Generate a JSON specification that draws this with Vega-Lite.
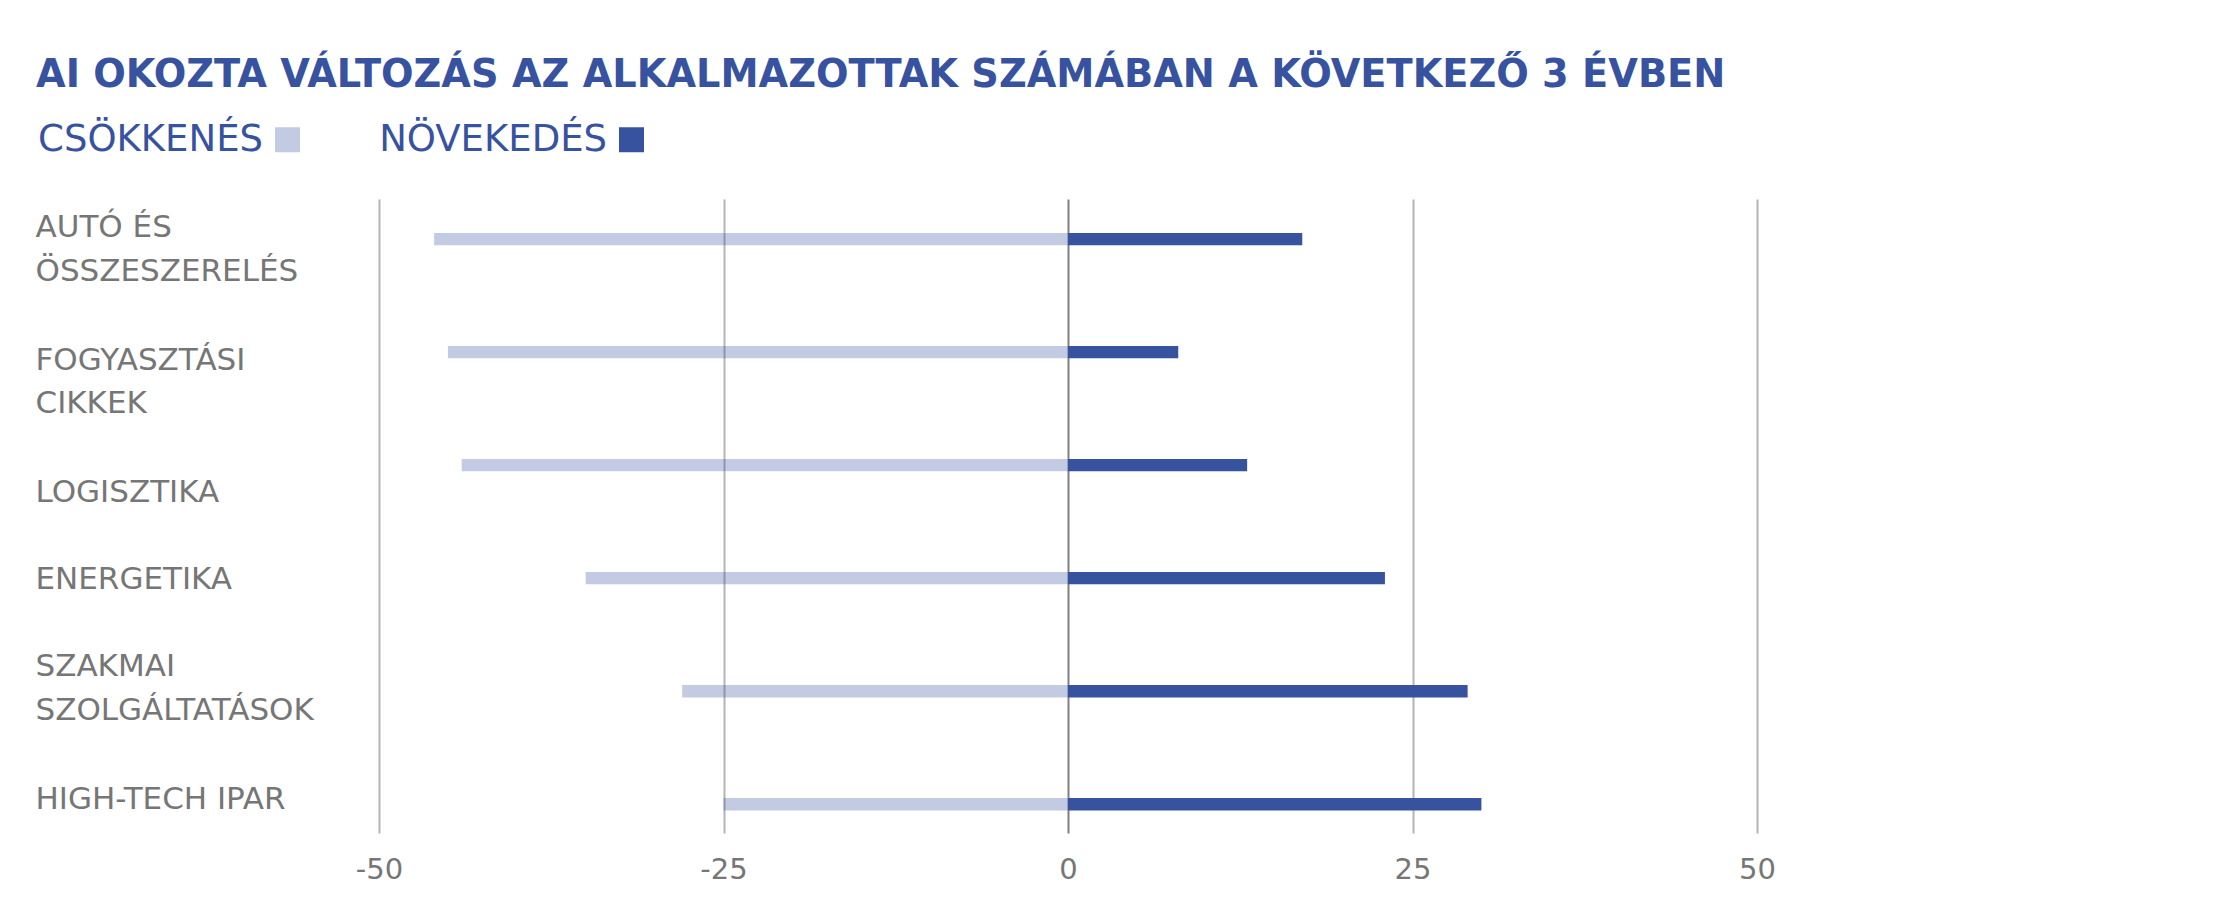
{
  "$schema": "https://vega.github.io/schema/vega-lite/v6.json",
  "width": 1378,
  "height": 634,
  "autosize": {"type": "none"},
  "padding": {"left": 379, "top": 199, "right": 470, "bottom": 73},
  "background": "white",
  "title": {
    "text": "AI OKOZTA VÁLTOZÁS AZ ALKALMAZOTTAK SZÁMÁBAN A KÖVETKEZŐ 3 ÉVBEN",
    "anchor": "start",
    "frame": "group",
    "dx": -343,
    "offset": -4,
    "baseline": "alphabetic",
    "font": "DejaVu Sans",
    "fontWeight": "bold",
    "fontSize": 38.3,
    "color": "#37529f"
  },
  "data": {
    "values": [
      {"category": "AUTÓ ÉS ÖSSZESZERELÉS", "series": "CSÖKKENÉS", "value": -46},
      {"category": "AUTÓ ÉS ÖSSZESZERELÉS", "series": "NÖVEKEDÉS", "value": 17},
      {"category": "FOGYASZTÁSI CIKKEK", "series": "CSÖKKENÉS", "value": -45},
      {"category": "FOGYASZTÁSI CIKKEK", "series": "NÖVEKEDÉS", "value": 8},
      {"category": "LOGISZTIKA", "series": "CSÖKKENÉS", "value": -44},
      {"category": "LOGISZTIKA", "series": "NÖVEKEDÉS", "value": 13},
      {"category": "ENERGETIKA", "series": "CSÖKKENÉS", "value": -35},
      {"category": "ENERGETIKA", "series": "NÖVEKEDÉS", "value": 23},
      {"category": "SZAKMAI SZOLGÁLTATÁSOK", "series": "CSÖKKENÉS", "value": -28},
      {"category": "SZAKMAI SZOLGÁLTATÁSOK", "series": "NÖVEKEDÉS", "value": 29},
      {"category": "HIGH-TECH IPAR", "series": "CSÖKKENÉS", "value": -25},
      {"category": "HIGH-TECH IPAR", "series": "NÖVEKEDÉS", "value": 30}
    ]
  },
  "mark": {"type": "bar"},
  "encoding": {
    "y": {
      "field": "category",
      "type": "nominal",
      "sort": null,
      "scale": {"paddingInner": 0.89, "paddingOuter": 0.25, "align": 0.6},
      "axis": {
        "title": null,
        "grid": false,
        "ticks": false,
        "tickSize": 0,
        "domain": false,
        "labelAlign": "left",
        "labelBaseline": "middle",
        "labelPadding": 344,
        "labelLimit": 500,
        "labelFont": "DejaVu Sans",
        "labelFontSize": 31,
        "labelColor": "#767676",
        "labelLineHeight": 43.5,
        "labelOffset": {"expr": "datum.value == 'AUTÓ ÉS ÖSSZESZERELÉS' ? -11 : datum.value == 'FOGYASZTÁSI CIKKEK' ? 8.5 : datum.value == 'LOGISZTIKA' ? 27.5 : datum.value == 'ENERGETIKA' ? 1.5 : datum.value == 'SZAKMAI SZOLGÁLTATÁSOK' ? -24 : -4"},
        "labelExpr": "datum.label == 'AUTÓ ÉS ÖSSZESZERELÉS' ? ['AUTÓ ÉS', 'ÖSSZESZERELÉS'] : datum.label == 'FOGYASZTÁSI CIKKEK' ? ['FOGYASZTÁSI', 'CIKKEK'] : datum.label == 'SZAKMAI SZOLGÁLTATÁSOK' ? ['SZAKMAI', 'SZOLGÁLTATÁSOK'] : datum.label"
      }
    },
    "x": {
      "field": "value",
      "type": "quantitative",
      "stack": null,
      "scale": {"domain": [-50, 50], "nice": false},
      "axis": {
        "title": null,
        "values": [-50, -25, 0, 25, 50],
        "grid": true,
        "gridWidth": 2,
        "gridColor": {"condition": {"test": "datum.value === 0", "value": "#808080"}, "value": "#b4b4b4"},
        "ticks": false,
        "tickSize": 0,
        "domain": false,
        "labelFlush": false,
        "labelPadding": 22,
        "labelFont": "DejaVu Sans",
        "labelFontSize": 29,
        "labelColor": "#767676",
        "labelExpr": "toString(datum.value)"
      }
    },
    "color": {
      "field": "series",
      "type": "nominal",
      "scale": {"domain": ["CSÖKKENÉS", "NÖVEKEDÉS"], "range": ["rgba(55,82,159,0.3)", "#37529f"]},
      "legend": {
        "orient": "none",
        "legendX": -110,
        "legendY": -78,
        "direction": "horizontal",
        "title": null,
        "padding": 0,
        "symbolType": "square",
        "symbolSize": 625,
        "symbolStrokeWidth": 0,
        "labelFont": "DejaVu Sans",
        "labelFontSize": 37,
        "labelColor": "#37529f",
        "labelAlign": "right",
        "labelOffset": -43,
        "labelLimit": 500,
        "columnPadding": 79
      }
    }
  },
  "config": {"view": {"stroke": null}}
}
